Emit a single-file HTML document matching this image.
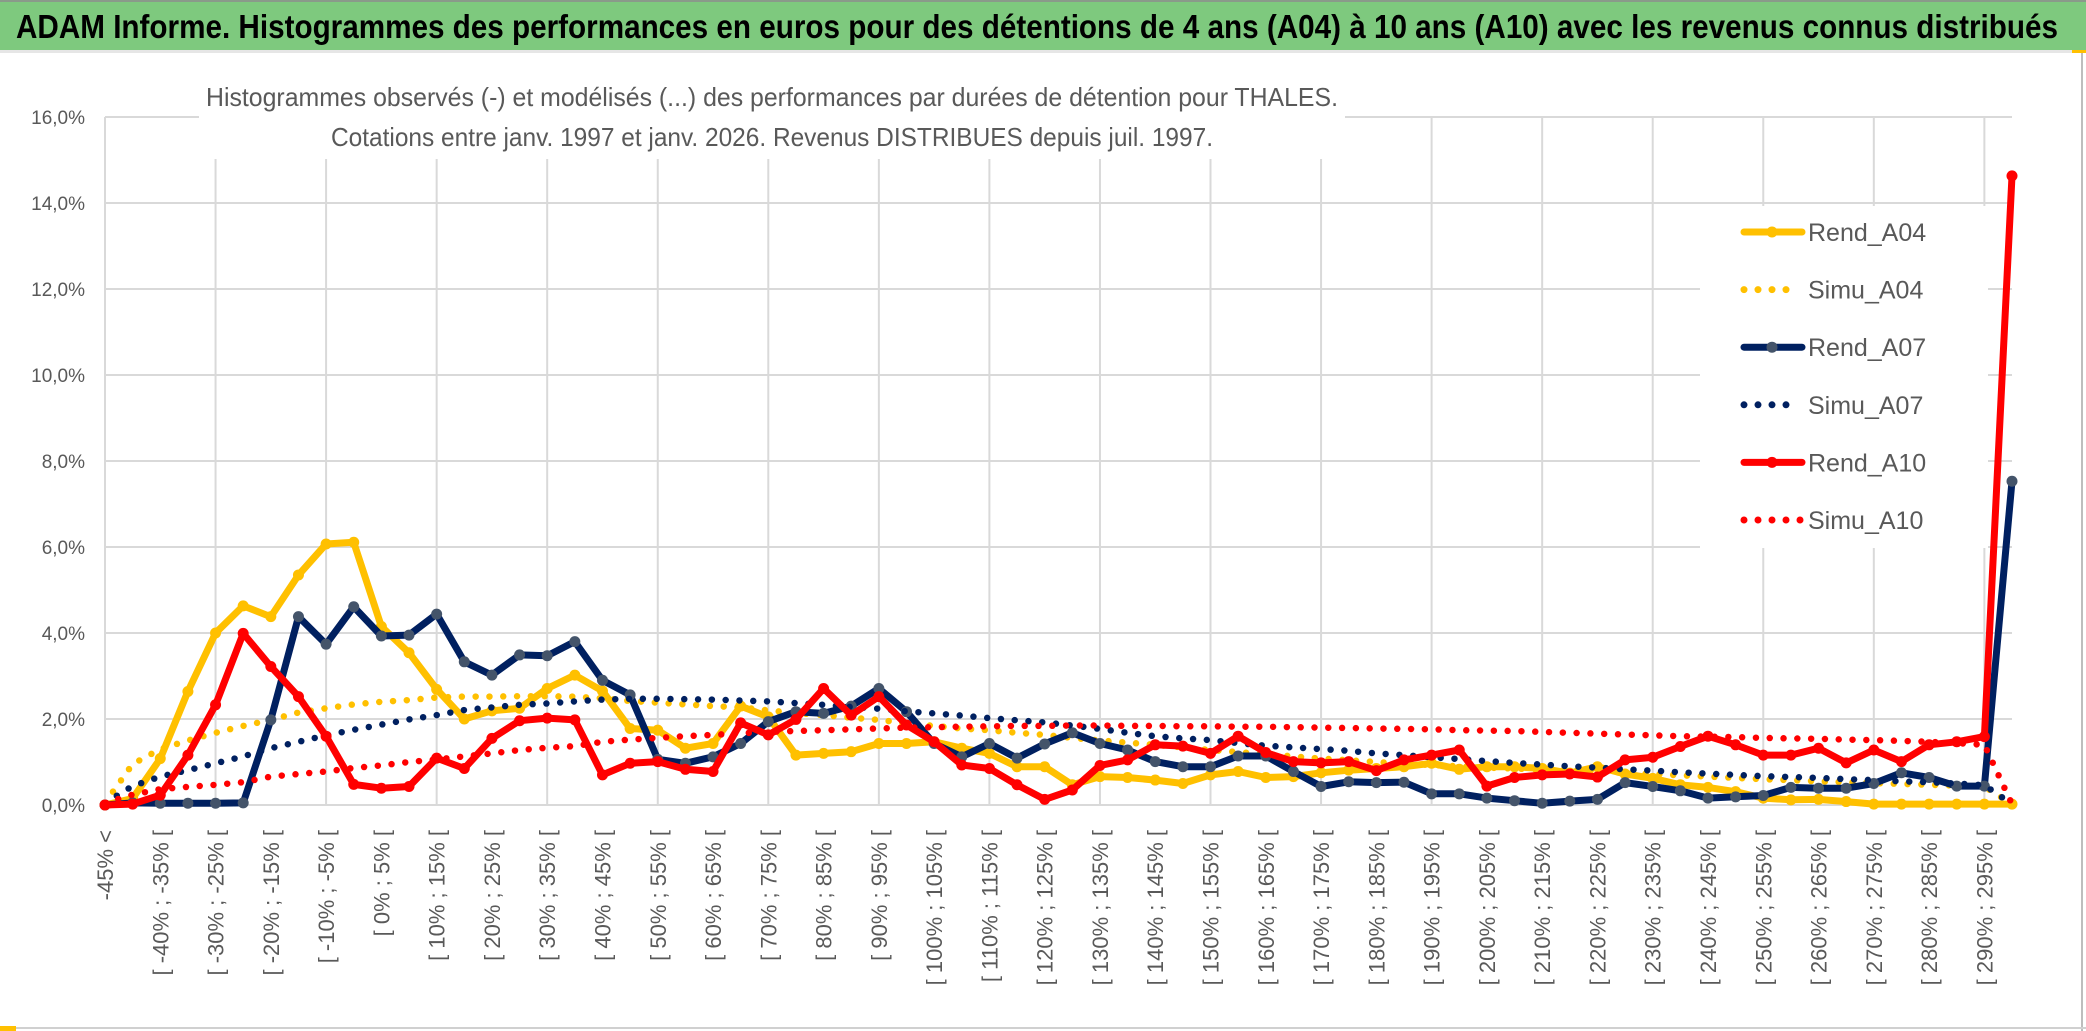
<!DOCTYPE html>
<html><head><meta charset="utf-8"><style>
html,body{margin:0;padding:0;background:#fff;}
svg{display:block;font-family:"Liberation Sans",sans-serif;}
</style></head><body>
<svg id="chart" width="2086" height="1031" viewBox="0 0 2086 1031" xmlns="http://www.w3.org/2000/svg">
<rect x="0" y="0" width="2086" height="1031" fill="#fff"/>
<rect x="0" y="0" width="2086" height="50" fill="#7EC97E"/>
<rect x="0" y="0" width="2086" height="2" fill="#8a9a8a"/>
<rect x="0" y="50" width="2086" height="3" fill="#e6e6e6"/>
<text x="16" y="38" font-size="33" font-weight="bold" fill="#000" textLength="2042" lengthAdjust="spacingAndGlyphs">ADAM Informe. Histogrammes des performances en euros pour des détentions de 4 ans (A04) à 10 ans (A10) avec les revenus connus distribués</text>
<rect x="2081" y="53" width="2" height="978" fill="#bdbdbd"/>
<rect x="0" y="1027" width="2086" height="2" fill="#d0d0d0"/>
<rect x="0" y="1026" width="16" height="5" fill="#FFC000"/>
<rect x="2072" y="50" width="14" height="3" fill="#FFC000"/>
<g id="grid"></g>
<rect x="199" y="55" width="1146" height="104" fill="#fff"/>
<text x="206" y="106" font-size="26" fill="#595959" textLength="1132" lengthAdjust="spacingAndGlyphs">Histogrammes observés (-) et modélisés (...) des performances par durées de détention pour THALES.</text>
<text x="331" y="146" font-size="26" fill="#595959" textLength="882" lengthAdjust="spacingAndGlyphs">Cotations entre janv. 1997 et janv. 2026. Revenus DISTRIBUES depuis juil. 1997.</text>
<g id="yaxis"></g>
<g id="xaxis"></g>
<rect x="1700" y="206" width="288" height="342" fill="#fff"/>
<g id="series"></g>
<g id="legend"></g>
</svg>
<script>
const categories = [];
categories.push('-45% <');
for (let a = -45; a < 300; a += 5) { categories.push('[ ' + a + '% ; ' + (a + 5) + '% ['); }
const yTicks = [0, 2, 4, 6, 8, 10, 12, 14, 16];
const yTickLabels = ['0,0%','2,0%','4,0%','6,0%','8,0%','10,0%','12,0%','14,0%','16,0%'];
const rendA04 = [0,0.15,1.08,2.64,4.0,4.63,4.38,5.35,6.07,6.11,
4.15,3.54,2.69,2.0,2.19,2.25,2.71,3.02,2.65,1.78,
1.74,1.32,1.43,2.3,2.05,1.16,1.2,1.24,1.43,1.43,
1.47,1.32,1.2,0.89,0.89,0.47,0.66,0.64,0.58,0.5,
0.7,0.78,0.64,0.66,0.75,0.81,0.85,0.89,0.97,0.83,
0.89,0.89,0.85,0.74,0.89,0.72,0.62,0.47,0.41,0.31,
0.16,0.12,0.13,0.08,0.02,0.02,0.02,0.02,0.02,0.02];
const simuA04 = [0.05,0.95,1.3,1.5,1.68,1.84,1.98,2.15,2.25,2.34,
2.4,2.44,2.5,2.52,2.52,2.53,2.53,2.52,2.48,2.42,
2.38,2.34,2.3,2.27,2.2,2.14,2.09,2.03,1.98,1.9,
1.84,1.78,1.74,1.68,1.63,1.56,1.5,1.45,1.4,1.34,
1.28,1.23,1.18,1.13,1.08,1.04,1.0,0.96,0.93,0.9,
0.87,0.85,0.82,0.8,0.78,0.75,0.72,0.69,0.66,0.63,
0.6,0.58,0.55,0.53,0.51,0.49,0.47,0.45,0.43,0.02];
const rendA07 = [0,0.05,0.04,0.04,0.04,0.05,1.98,4.38,3.74,4.61,
3.93,3.95,4.44,3.33,3.02,3.49,3.47,3.8,2.9,2.56,
1.06,0.97,1.12,1.43,1.94,2.17,2.13,2.3,2.71,2.17,
1.43,1.12,1.43,1.09,1.42,1.68,1.43,1.28,1.01,0.89,
0.89,1.14,1.14,0.78,0.43,0.54,0.52,0.53,0.26,0.26,
0.16,0.1,0.04,0.09,0.13,0.52,0.43,0.33,0.16,0.19,
0.22,0.41,0.39,0.39,0.5,0.75,0.64,0.44,0.44,7.53];
const simuA07 = [0.05,0.44,0.66,0.81,0.97,1.13,1.32,1.47,1.62,1.75,
1.87,1.99,2.09,2.21,2.27,2.33,2.36,2.41,2.45,2.47,
2.47,2.46,2.45,2.43,2.41,2.37,2.33,2.28,2.24,2.18,
2.13,2.08,2.02,1.97,1.92,1.85,1.77,1.68,1.6,1.55,
1.51,1.44,1.38,1.34,1.3,1.26,1.2,1.16,1.11,1.07,
1.02,0.98,0.94,0.9,0.87,0.83,0.8,0.76,0.73,0.7,
0.67,0.65,0.63,0.6,0.58,0.55,0.53,0.5,0.46,0.02];
const rendA10 = [0,0.02,0.23,1.16,2.33,3.99,3.22,2.52,1.6,0.48,
0.39,0.43,1.09,0.85,1.55,1.96,2.02,1.98,0.7,0.97,
1.01,0.83,0.78,1.91,1.63,1.99,2.71,2.09,2.52,1.86,
1.47,0.93,0.85,0.47,0.13,0.35,0.92,1.05,1.4,1.37,
1.2,1.6,1.22,1.01,0.98,1.01,0.8,1.05,1.16,1.28,
0.44,0.64,0.7,0.72,0.65,1.05,1.11,1.36,1.6,1.4,
1.16,1.16,1.32,0.98,1.28,1.01,1.4,1.47,1.59,14.63];
const simuA10 = [0.05,0.24,0.37,0.42,0.47,0.53,0.66,0.72,0.78,0.86,
0.92,1.0,1.06,1.13,1.2,1.28,1.33,1.37,1.47,1.52,
1.56,1.6,1.63,1.67,1.7,1.72,1.74,1.76,1.78,1.8,
1.81,1.82,1.83,1.84,1.84,1.85,1.85,1.84,1.84,1.83,
1.83,1.82,1.82,1.81,1.8,1.79,1.78,1.77,1.76,1.74,
1.73,1.72,1.7,1.68,1.66,1.64,1.62,1.6,1.59,1.58,
1.56,1.55,1.54,1.52,1.51,1.49,1.47,1.44,1.4,0.02];
const seriesNames = ['Rend_A04','Simu_A04','Rend_A07','Simu_A07','Rend_A10','Simu_A10'];

const NS = 'http://www.w3.org/2000/svg';
const X0 = 105, X1 = 2012, Y0 = 805, YTOP = 117;
function xScale(i){ return X0 + i * (X1 - X0) / (categories.length - 1); }
function yScale(v){ return Y0 - v * (Y0 - YTOP) / 16; }
function mk(tag, parent){ const e = document.createElementNS(NS, tag); parent.appendChild(e); return e; }

const grid = document.getElementById('grid');
yTicks.forEach(function(t){
  const l = mk('line', grid);
  
  
  l.setAttribute('x1', X0); l.setAttribute('x2', X1);
  l.setAttribute('y1', yScale(t)); l.setAttribute('y2', yScale(t));
  l.setAttribute('stroke', '#D9D9D9'); l.setAttribute('stroke-width', '2');
});
for (let i = 0; i < categories.length; i += 4) {
  const l = mk('line', grid);
  
  
  l.setAttribute('x1', xScale(i)); l.setAttribute('x2', xScale(i));
  l.setAttribute('y1', yScale(16)); l.setAttribute('y2', Y0);
  l.setAttribute('stroke', '#D9D9D9'); l.setAttribute('stroke-width', '2');
}
const yaxis = document.getElementById('yaxis');
yTicks.forEach(function(t, k){
  const tx = mk('text', yaxis);
  
  
  tx.setAttribute('x', 85); tx.setAttribute('y', yScale(t) + 7);
  tx.setAttribute('text-anchor', 'end'); tx.setAttribute('font-size', '19');
  tx.setAttribute('fill', '#595959');
  tx.textContent = yTickLabels[k];
});
const xaxis = document.getElementById('xaxis');
for (let i = 0; i < categories.length; i += 2) {
  const tx = mk('text', xaxis);
  
  
  const x = xScale(i) + 8, y = 830;
  tx.setAttribute('x', x); tx.setAttribute('y', y);
  tx.setAttribute('transform', 'rotate(-90 ' + x + ' ' + y + ')');
  tx.setAttribute('text-anchor', 'end'); tx.setAttribute('font-size', '22');
  tx.setAttribute('fill', '#595959');
  tx.textContent = categories[i];
}
const seriesG = document.getElementById('series');
function drawSeries(vals, color, dotted, markerColor, name){
  const g = mk('g', seriesG);
  
  
  const p = mk('polyline', g);
  
  
  p.setAttribute('points', vals.map(function(v, i){ return xScale(i).toFixed(1) + ',' + yScale(v).toFixed(1); }).join(' '));
  p.setAttribute('fill', 'none'); p.setAttribute('stroke', color);
  p.setAttribute('stroke-linejoin', 'round'); p.setAttribute('stroke-linecap', 'round');
  if (dotted) { p.setAttribute('stroke-width', '6.5'); p.setAttribute('stroke-dasharray', '0 13.8'); }
  else { p.setAttribute('stroke-width', '7'); }
  if (markerColor) {
    vals.forEach(function(v, i){
      const c = mk('circle', g);
      
      
      c.setAttribute('cx', xScale(i)); c.setAttribute('cy', yScale(v)); c.setAttribute('r', '5.5');
      c.setAttribute('fill', markerColor);
    });
  }
}
drawSeries(rendA04, '#FFC000', false, '#FFC000', 'rend-a04');
drawSeries(simuA04, '#FFC000', true, null, 'simu-a04');
drawSeries(rendA07, '#002060', false, '#44546A', 'rend-a07');
drawSeries(simuA07, '#002060', true, null, 'simu-a07');
drawSeries(rendA10, '#FF0000', false, '#FF0000', 'rend-a10');
drawSeries(simuA10, '#FF0000', true, null, 'simu-a10');

const legend = document.getElementById('legend');
const legColors = ['#FFC000','#FFC000','#002060','#002060','#FF0000','#FF0000'];
const legMarkers = ['#FFC000',null,'#44546A',null,'#FF0000',null];
seriesNames.forEach(function(n, k){
  const y = 232 + k * 57.6;
  const g = mk('g', legend);
  
  
  const l = mk('line', g);
  
  
  l.setAttribute('x1', 1744); l.setAttribute('x2', 1802); l.setAttribute('y1', y); l.setAttribute('y2', y);
  l.setAttribute('stroke', legColors[k]); l.setAttribute('stroke-width', '7'); l.setAttribute('stroke-linecap', 'round');
  if (!legMarkers[k]) { l.setAttribute('stroke-dasharray', '0 14'); l.setAttribute('x2', legColors[k] === '#FF0000' ? 1802 : 1790); }
  else {
    const c = mk('circle', g);
    
    
    c.setAttribute('cx', 1772); c.setAttribute('cy', y); c.setAttribute('r', '5.5'); c.setAttribute('fill', legMarkers[k]);
  }
  const t = mk('text', g);
  
  
  t.setAttribute('x', 1808); t.setAttribute('y', y + 9);
  t.setAttribute('font-size', '25'); t.setAttribute('fill', '#595959');
  t.textContent = n;
});
</script>
</body></html>
